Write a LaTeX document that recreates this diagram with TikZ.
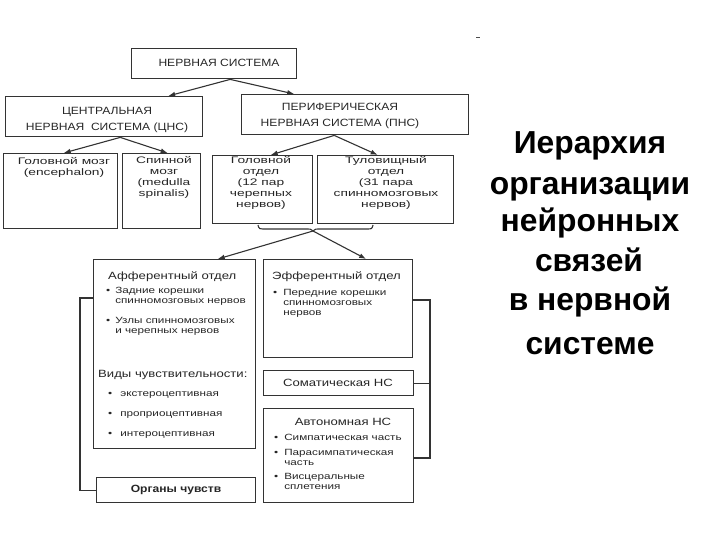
\documentclass[tikz,border=0pt]{standalone}
\usepackage{fontspec}
\setmainfont{Liberation Sans}
\newfontfamily\df[FakeStretch=1.15]{Liberation Sans}
\newfontfamily\dfm[FakeStretch=1.25]{Liberation Sans}
\newfontfamily\dfw[FakeStretch=1.3]{Liberation Sans}
\newfontfamily\dfx[FakeStretch=1.45]{Liberation Sans}
\usetikzlibrary{arrows.meta}
\tikzset{
  box/.style={draw=black!80, line width=1.4pt, anchor=north west, inner sep=0pt, fill=white},
  conn/.style={draw=black!80, line width=1.1pt},
  arr/.style={conn, -{Latex[length=7pt,width=5pt]}},
  capt/.style={align=center, inner sep=0pt, text=black!85, font=\df\fontsize{10.5}{15.5}\selectfont},
  smalltxt/.style={align=center, inner sep=0pt, text=black!85, font=\dfx\fontsize{9.5}{11}\selectfont},
  midtxt/.style={inner sep=0pt, text=black!85, font=\dfm\fontsize{10.5}{12}\selectfont},
  lst/.style={inner sep=0pt, text=black!85, font=\dfw\fontsize{9}{10}\selectfont},
  ttl/.style={inner sep=0pt, text=black, font=\bfseries\fontsize{31.8}{38}\selectfont},
}
\begin{document}
\begin{tikzpicture}[x=1pt,y=-1pt]
\useasboundingbox (0,0) rectangle (720,540);

% level 1
\node[box, minimum width=165, minimum height=30] (ns) at (131,48) {};
\node[capt] (ns-t) at (219,63) {НЕРВНАЯ СИСТЕМА};
% level 2
\node[box, minimum width=197, minimum height=40] (cns) at (5,96) {};
\node[capt] (cns-t) at (107,120) {ЦЕНТРАЛЬНАЯ\\НЕРВНАЯ \ СИСТЕМА (ЦНС)};
\node[box, minimum width=227, minimum height=40] (pns) at (241,94) {};
\node[capt] (pns-t) at (340,116) {ПЕРИФЕРИЧЕСКАЯ\\НЕРВНАЯ СИСТЕМА (ПНС)};
% level 3
\node[box, minimum width=114, minimum height=75] (gm) at (3,153) {};
\node[smalltxt] (gm-t) at (64,167.5) {Головной мозг\\(encephalon)};
\node[box, minimum width=78, minimum height=75] (sm) at (122,153) {};
\node[smalltxt] (sm-t) at (164,177) {Спинной\\мозг\\(medulla\\spinalis)};
\node[box, minimum width=100, minimum height=68] (go) at (212,155) {};
\node[smalltxt] (go-t) at (261,182.5) {Головной\\отдел\\(12 пар\\черепных\\нервов)};
\node[box, minimum width=136, minimum height=68] (to) at (317,155) {};
\node[smalltxt] (to-t) at (386,182.5) {Туловищный\\отдел\\(31 пара\\спинномозговых\\нервов)};

% brace under the PNS parts
\coordinate (br) at (313,231);
\draw[conn] (258,225) .. controls (259,229) .. (266,229) -- (305,229) .. controls (311,229) .. (br)
  .. controls (315,229) .. (321,229) -- (366,229) .. controls (372,229) .. (373,225);

% afferent
\node[box, minimum width=162, minimum height=189] (aff) at (93,259) {};
\node[midtxt, anchor=base west] (aff-h) at (108,279) {Афферентный отдел};
\node[lst, anchor=base west] (aff-l) at (106,293.5) {\begin{tabular}[t]{@{}l@{\hspace{5pt}}l@{}}•&Задние корешки\\&спинномозговых нервов\\[10pt]•&Узлы спинномозговых\\&и черепных нервов\end{tabular}};
\node[midtxt, anchor=base west] (aff-v) at (98,377) {Виды чувствительности:};
\node[lst, anchor=base west] (aff-vl) at (108,396.5) {\begin{tabular}[t]{@{}l@{\hspace{8pt}}l@{}}•&экстероцептивная\\[10pt]•&проприоцептивная\\[10pt]•&интероцептивная\end{tabular}};

% efferent
\node[box, minimum width=149, minimum height=98] (eff) at (263,259) {};
\node[midtxt, anchor=base west] (eff-h) at (272,279) {Эфферентный отдел};
\node[lst, anchor=base west] (eff-l) at (273,295.5) {\begin{tabular}[t]{@{}l@{\hspace{6pt}}l@{}}•&Передние корешки\\&спинномозговых\\&нервов\end{tabular}};

% somatic / autonomic
\node[box, minimum width=150, minimum height=25] (som) at (263,370) {};
\node[midtxt] (som-t) at (338,383) {Соматическая НС};
\node[box, minimum width=150, minimum height=94] (aut) at (263,408) {};
\node[midtxt] (aut-h) at (343,422) {Автономная НС};
\node[lst, anchor=base west] (aut-l) at (274,440.5) {\begin{tabular}[t]{@{}l@{\hspace{6pt}}l@{}}•&Симпатическая часть\\[5pt]•&Парасимпатическая\\&часть\\[4pt]•&Висцеральные\\&сплетения\end{tabular}};

% sense organs
\node[box, minimum width=159, minimum height=25] (org) at (96,477) {};
\node[midtxt, font=\df\bfseries\fontsize{10.5}{12}\selectfont] (org-t) at (176,490) {Органы чувств};

% connectors
\draw[arr] ([xshift=16]ns.south) -- ([xshift=64]cns.north);
\draw[arr] ([xshift=16]ns.south) -- ([xshift=-61]pns.north);
\draw[arr] ([xshift=16]cns.south) -- ([xshift=3]gm.north);
\draw[arr] ([xshift=16]cns.south) -- ([xshift=6]sm.north);
\draw[arr] ([xshift=-21]pns.south) -- ([xshift=8]go.north);
\draw[arr] ([xshift=-21]pns.south) -- ([xshift=-8]to.north);
\draw[arr] (br) -- ([xshift=43]aff.north);
\draw[arr] (br) -- ([xshift=28]eff.north);

\coordinate (lb) at (80,0);
\draw[conn] (aff.west |- 0,298) -| (lb |- org.west) -- (org.west);
\coordinate (rb) at (430,0);
\draw[conn] (eff.east |- 0,300) -| (rb |- 0,458) -- (aut.east |- 0,458);
\draw[conn] (som.east) -- (rb |- som.east);

% small mark
\coordinate (mk) at (476,37);
\draw[black!70, line width=0.8pt] (mk) -- ++(4,0);

% title
\node[ttl, anchor=base] (t1) at (590,154) {Иерархия};
\node[ttl, anchor=base] (t2) at (590,195) {организации};
\node[ttl, anchor=base] (t3) at (590,232) {нейронных};
\node[ttl, anchor=base] (t4) at (589,271) {связей};
\node[ttl, anchor=base] (t5) at (590,310) {в нервной};
\node[ttl, anchor=base] (t6) at (590,354) {системе};
\end{tikzpicture}
\end{document}
